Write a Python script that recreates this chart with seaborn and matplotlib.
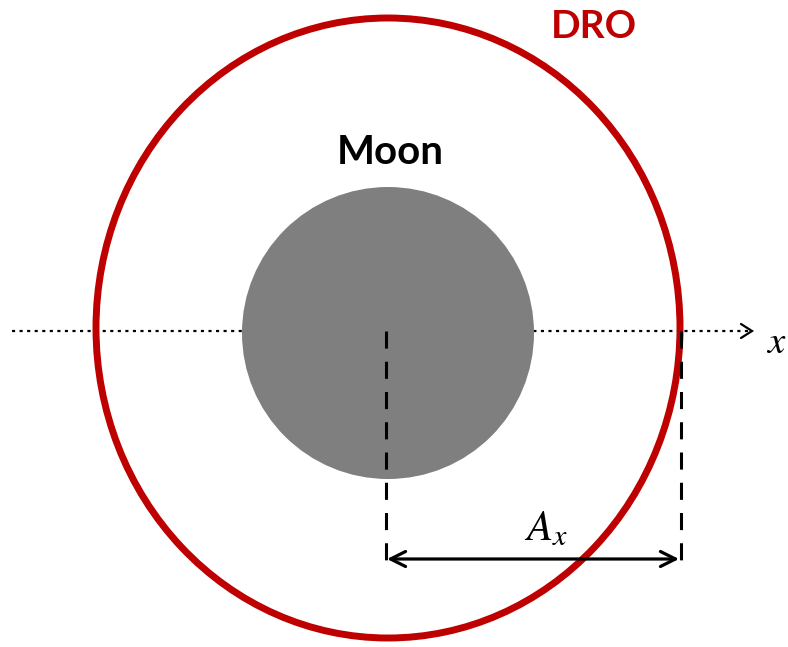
import numpy as np
import pandas as pd
import matplotlib
matplotlib.use("Agg")
import matplotlib.pyplot as plt
from matplotlib.patches import Ellipse, Circle
import seaborn as sns

# ---- diagram data (pixel coordinates of the reference) ----
dro_center = [388, 328]
dro_size = [584, 620]          # width, height
moon_center = [388, 333]
moon_radius = 146
axis_x = [12, 752]             # dotted x-axis extent
axis_y = 331
guide_x = [386, 681]           # dashed guide lines
guide_y = [331, 560]
amp_y = 559                    # A_x double arrow
labels = {"dro": "DRO", "moon": "Moon", "amp": r"$A_x$", "axis": r"$x$"}

sns.set_theme(style="white")
plt.rcParams["font.family"] = ["Lato", "DejaVu Sans"]
plt.rcParams["mathtext.fontset"] = "stix"

fig = plt.figure(figsize=(7.88, 6.47), dpi=100)
ax = fig.add_axes([0, 0, 1, 1])
ax.set_xlim(0, 788)
ax.set_ylim(647, 0)
ax.axis("off")

# dotted x axis
axis_df = pd.DataFrame({"x": axis_x, "y": [axis_y, axis_y]})
sns.lineplot(data=axis_df, x="x", y="y", ax=ax, color="black", lw=1.6,
             linestyle=(0, (1.4, 2.0)), estimator=None, sort=False, zorder=1)
# open arrowhead on axis
ax.plot([axis_x[1] - 11, axis_x[1], axis_x[1] - 11],
        [axis_y - 7, axis_y, axis_y + 7], color="black", lw=1.6, zorder=1,
        solid_capstyle="round", solid_joinstyle="miter")

# Moon
ax.add_patch(Circle(moon_center, moon_radius, facecolor="#7f7f7f",
                    edgecolor="none", zorder=2))

# DRO
ax.add_patch(Ellipse(dro_center, dro_size[0], dro_size[1], facecolor="none",
                     edgecolor="#BE0000", lw=5, zorder=3))

# dashed guides
for gx in guide_x:
    gdf = pd.DataFrame({"x": [gx, gx], "y": guide_y})
    sns.lineplot(data=gdf, x="x", y="y", ax=ax, color="black", lw=2.2,
                 linestyle=(0, (5.6, 4.3)), estimator=None, sort=False, zorder=4)

# A_x double arrow
ax.annotate("", xy=(guide_x[0] + 1, amp_y), xytext=(guide_x[1] - 2, amp_y),
            arrowprops=dict(arrowstyle="<->,head_length=0.9,head_width=0.45",
                            color="black", lw=2.3, shrinkA=0, shrinkB=0),
            zorder=5)

# labels
ax.text(594, 27, labels["dro"], color="#BE0000", fontsize=28,
        fontweight="bold", ha="center", va="center")
ax.text(390, 153, labels["moon"], color="black", fontsize=29,
        fontweight="bold", ha="center", va="center")
ax.text(546, 540, labels["amp"], color="black", fontsize=31,
        ha="center", va="baseline")
ax.text(766, 353, labels["axis"], color="black", fontsize=28,
        ha="left", va="baseline")

fig.savefig("out.png", dpi=100)
